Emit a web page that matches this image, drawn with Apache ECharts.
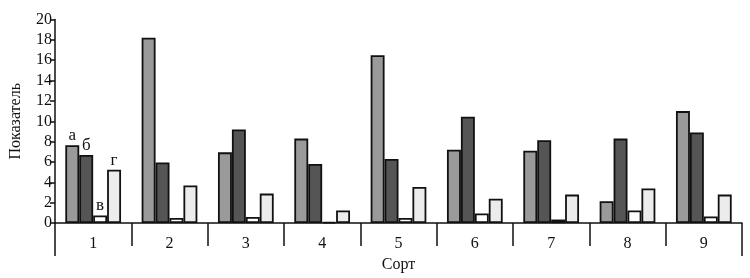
<!DOCTYPE html>
<html><head><meta charset="utf-8">
<script src="https://cdn.jsdelivr.net/npm/echarts@6/dist/echarts.min.js"></script>
<style>html,body{margin:0;padding:0;background:#fff}#c{width:750px;height:278px}</style>
</head><body><div id="c"></div>
<script>
const categories = ['1','2','3','4','5','6','7','8','9'];
const seriesA = [7.65, 18.2, 6.95, 8.3, 16.5, 7.2, 7.1, 2.15, 11.0];
const seriesB = [6.7, 5.95, 9.2, 5.8, 6.3, 10.45, 8.15, 8.3, 8.9];
const seriesV = [0.75, 0.5, 0.6, 0.1, 0.5, 0.95, 0.35, 1.25, 0.65];
const seriesG = [5.25, 3.7, 2.9, 1.25, 3.55, 2.4, 2.8, 3.4, 2.8];
const seriesLetters = ['а','б','в','г'];
const yTicks = {min:0, max:20, interval:2};
const colors = ['#9a9a9a','#555555','#ffffff','#ececec'];
const font = '"Liberation Serif", "DejaVu Serif", serif';

function mk(vals, idx){
  return {
    type:'bar', name: seriesLetters[idx], barGap:'0%', barCategoryGap:'27%',
    itemStyle:{color:colors[idx], borderColor:'#111', borderWidth:1.8},
    data: vals.map((v,i)=> i===0 ? {value:v, label:{show:true, position:'top', distance:1, formatter:seriesLetters[idx], color:'#111', fontFamily:font, fontSize:17}} : v)
  };
}
const chart = echarts.init(document.getElementById('c'));
chart.setOption({
  animation:false,
  grid:{left:55, right:8, top:19.5, bottom:50},
  xAxis:[{
    type:'category', data:categories,
    axisLine:{lineStyle:{color:'#111', width:1.5}},
    axisTick:{show:true, length:23, lineStyle:{color:'#111', width:1.5}},
    axisLabel:{color:'#111', fontFamily:font, fontSize:16, margin:13},
    name:'Сорт', nameLocation:'middle', nameGap:33,
    nameTextStyle:{color:'#111', fontFamily:font, fontSize:16}
  },{
    type:'value', min:0, max:1, interval:1, position:'bottom',
    axisLine:{show:false}, splitLine:{show:false}, axisLabel:{show:false},
    axisTick:{show:true, length:33, lineStyle:{color:'#111', width:1.5}}
  }],
  yAxis:{
    type:'value', min:yTicks.min, max:yTicks.max, interval:yTicks.interval,
    axisLine:{show:true, lineStyle:{color:'#111', width:1.5}},
    axisTick:{show:true, length:5, lineStyle:{color:'#111', width:1.5}},
    splitLine:{show:false},
    axisLabel:{color:'#111', fontFamily:font, fontSize:16, margin:3},
    name:'Показатель', nameLocation:'middle', nameGap:31,
    nameTextStyle:{color:'#111', fontFamily:font, fontSize:16}
  },
  series:[mk(seriesA,0), mk(seriesB,1), mk(seriesV,2), mk(seriesG,3)]
});
</script></body></html>
